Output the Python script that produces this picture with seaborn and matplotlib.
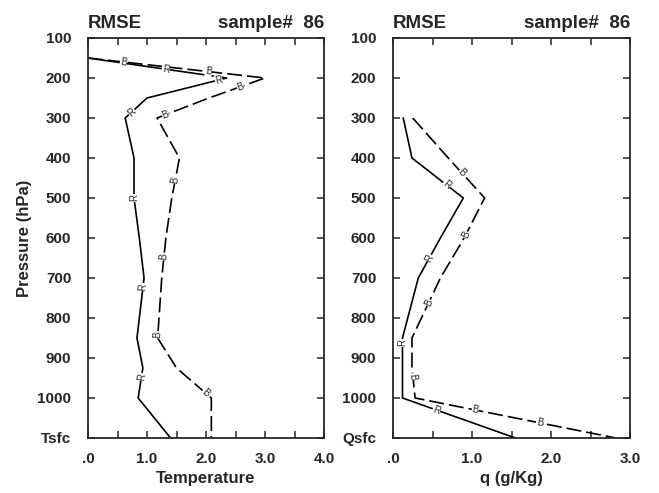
"""
RMSE profiles of temperature and humidity (sample# 86)
"""

import numpy as np
import pandas as pd
import matplotlib
matplotlib.use('Agg')
import matplotlib.pyplot as plt
import seaborn as sns

sns.set_style('ticks')
plt.rcParams['font.family'] = ['Liberation Sans', 'DejaVu Sans']
plt.rcParams['font.weight'] = 'bold'

# pressure levels in hPa, 1100 is the surface value (Tsfc / Qsfc)
t_levels = [150, 200, 250, 300, 400, 500, 600, 700, 850, 925, 1000, 1100]
t_rmse_r = [0.0, 2.35, 1.0, 0.63, 0.78, 0.78, 0.87, 0.95, 0.83, 0.93, 0.85, 1.4]
t_rmse_b = [0.0, 3.0, 2.05, 1.17, 1.55, 1.42, 1.32, 1.25, 1.18, 1.5, 2.09, 2.09]

q_levels = [300, 400, 500, 600, 700, 850, 925, 1000, 1100]
q_rmse_r = [0.13, 0.24, 0.89, 0.6, 0.32, 0.12, 0.12, 0.12, 1.55]
q_rmse_b = [0.25, 0.7, 1.16, 0.9, 0.6, 0.24, 0.24, 0.28, 2.82]

pres_ticks = [100, 200, 300, 400, 500, 600, 700, 800, 900, 1000, 1100]
t_ticklabels = ['100', '200', '300', '400', '500', '600', '700', '800', '900', '1000', 'Tsfc']
q_ticklabels = ['100', '200', '300', '400', '500', '600', '700', '800', '900', '1000', 'Qsfc']

# pressures where the inline curve labels sit
t_lab_r = [178, 205, 285, 500, 722, 947]
t_lab_b = [160, 184, 222, 292, 455, 647, 842, 987]
q_lab_r = [467, 650, 862, 1030]
q_lab_b = [437, 592, 762, 947, 1030, 1062]

DASH = (0, (9, 3))


def label_line(ax, vals, levels, where, letter):
    """Put NCAR-style letters on a curve, rotated along it"""
    vals = np.asarray(vals, float)
    levels = np.asarray(levels, float)
    for p in where:
        v = np.interp(p, levels, vals)
        i = np.clip(np.searchsorted(levels, p) - 1, 0, len(levels) - 2)
        a = ax.transData.transform((vals[i], levels[i]))
        b = ax.transData.transform((vals[i + 1], levels[i + 1]))
        ang = np.degrees(np.arctan2(b[1] - a[1], b[0] - a[0]))
        if ang > 90:
            ang -= 180
        elif ang <= -90:
            ang += 180
        ax.text(v, p, letter, fontsize=7, fontweight='normal', rotation=ang,
                rotation_mode='anchor', ha='center', va='center',
                bbox=dict(facecolor='white', edgecolor='none', pad=0.3), zorder=5)


def draw_panel(ax, levels, r, b, xmax, ticklabels, xlabel, lab_r, lab_b):
    df = pd.DataFrame({'p': levels, 'R': r, 'B': b})
    sns.lineplot(data=df, x='R', y='p', orient='y', sort=False, estimator=None,
                 color='black', linewidth=1.2, ax=ax)
    sns.lineplot(data=df, x='B', y='p', orient='y', sort=False, estimator=None,
                 color='black', linewidth=1.2, linestyle=DASH, ax=ax)
    ax.set_xlim(0, xmax)
    ax.set_ylim(1100, 100)
    ax.set_yticks(pres_ticks)
    ax.set_yticklabels(ticklabels)
    xt = np.arange(0, xmax + 0.01, 0.5)
    ax.set_xticks(xt)
    ax.set_xticklabels(['.0' if v == 0 else (f'{v:.1f}' if v % 1 == 0 else '') for v in xt])
    ax.tick_params(direction='in', top=True, right=True, length=5, width=1.1,
                   labelsize=11, pad=10)
    ax.tick_params(axis='y', pad=12)
    for s in ax.spines.values():
        s.set_linewidth(1.3)
    ax.set_xlabel(xlabel, fontsize=12, fontweight='bold', labelpad=4)
    ax.set_ylabel('')
    ax.set_title('RMSE', loc='left', fontsize=13.5, fontweight='bold', pad=7)
    ax.set_title('sample#  86', loc='right', fontsize=13.5, fontweight='bold', pad=7)
    label_line(ax, r, levels, lab_r, 'R')
    label_line(ax, b, levels, lab_b, 'B')


fig = plt.figure(figsize=(6.59, 4.93), dpi=100)
ax1 = fig.add_axes([88 / 659, 55 / 493, 236 / 659, 400 / 493])
ax2 = fig.add_axes([393 / 659, 55 / 493, 237 / 659, 400 / 493])

draw_panel(ax1, t_levels, t_rmse_r, t_rmse_b, 4.0, t_ticklabels, 'Temperature', t_lab_r, t_lab_b)
draw_panel(ax2, q_levels, q_rmse_r, q_rmse_b, 3.0, q_ticklabels, 'q (g/Kg)', q_lab_r, q_lab_b)
ax1.set_ylabel('Pressure (hPa)', fontsize=12, fontweight='bold', labelpad=4)

fig.savefig('out.png', dpi=100)
